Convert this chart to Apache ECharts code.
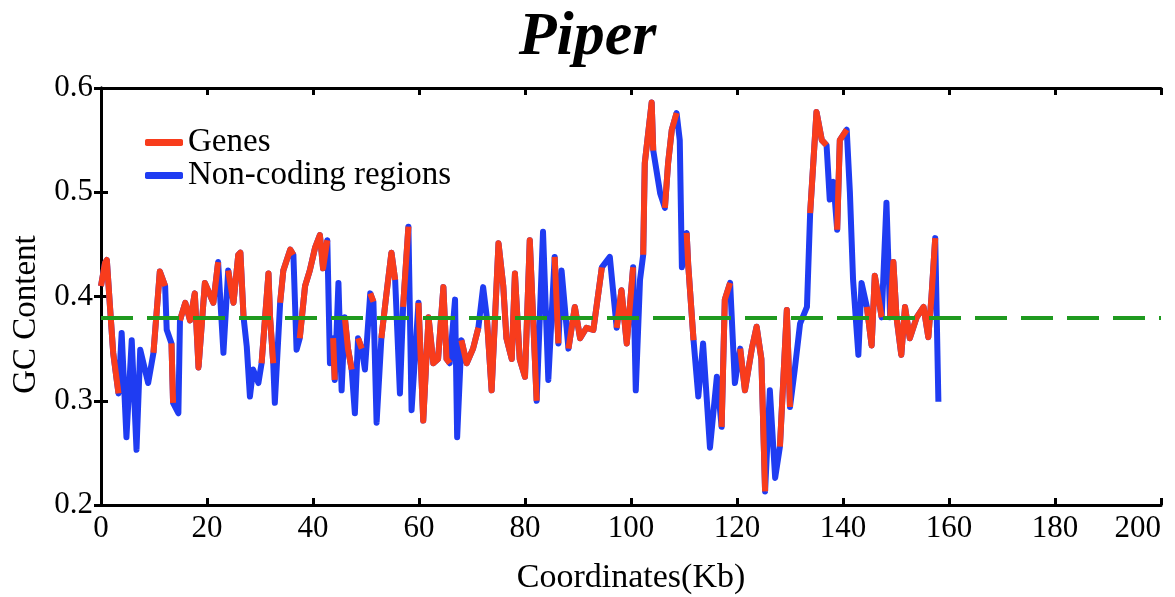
<!DOCTYPE html>
<html>
<head>
<meta charset="utf-8">
<title>Piper GC content</title>
<script src="https://cdn.jsdelivr.net/npm/echarts@6/dist/echarts.min.js"></script>
<style>
  html, body { margin: 0; padding: 0; background: #fff; }
  #chart { width: 1175px; height: 597px; }
</style>
</head>
<body>
<div id="chart"></div>
<script>
// coordinates along the genome (Kb)
const positions = [
  0.0, 0.75, 1.1, 1.7, 2.3, 3.3, 3.9, 4.8, 5.8, 6.7, 7.4, 8.9, 9.9, 11.1, 12.1, 12.4, 13.3, 13.6, 14.6, 14.9,
  15.9, 16.8, 17.7, 18.4, 19.6, 21.2, 22.1, 23.1, 24.0, 25.0, 25.9, 26.3, 26.9, 27.5, 28.1, 28.7, 29.7, 30.3, 31.6, 31.9,
  32.5, 32.8, 33.8, 34.4, 35.7, 36.3, 36.9, 37.5, 38.5, 39.4, 40.4, 41.3, 41.9, 42.7, 43.2, 43.8, 44.1, 44.8, 45.4, 46.0,
  46.6, 47.3, 47.9, 48.5, 49.2, 49.8, 50.8, 51.4, 52.0, 52.9, 53.8, 54.8, 55.5, 56.4, 57.0, 58.0, 58.6, 59.9, 60.8, 61.8,
  62.7, 63.6, 64.6, 65.2, 65.8, 66.8, 67.2, 68.0, 69.0, 70.2, 71.2, 72.1, 72.8, 73.7, 75.0, 75.9, 76.5, 77.5, 78.1, 79.0,
  80.0, 80.9, 82.2, 83.4, 84.4, 85.6, 86.3, 86.9, 88.2, 89.4, 90.4, 91.6, 92.9, 94.5, 96.0, 97.3, 98.2, 99.2, 100.4, 100.9,
  101.7, 102.3, 102.6, 103.9, 104.2, 105.5, 106.4, 107.0, 107.7, 108.6, 109.2, 109.6, 110.5, 110.8, 111.8, 112.7, 113.6, 114.9, 116.2, 117.1,
  117.7, 118.7, 119.6, 120.6, 121.5, 122.8, 123.7, 124.6, 125.3, 126.2, 127.2, 128.1, 129.4, 130.0, 130.9, 131.9, 133.2, 133.8, 135.0, 136.0,
  136.9, 137.5, 138.2, 138.9, 139.4, 140.7, 141.3, 141.9, 142.9, 143.5, 144.5, 145.4, 146.0, 147.3, 148.2, 148.9, 149.5, 150.1, 151.0, 151.7,
  152.6, 153.9, 155.2, 156.1, 156.7, 157.4, 158.0
]

// GC content of non-coding windows (blue trace)
const nonCodingGC = [
  0.41, 0.432, 0.435, 0.39, 0.346, 0.307, 0.365, 0.265, 0.358, 0.253, 0.349, 0.317, 0.346, 0.424, 0.41, 0.368, 0.355, 0.298, 0.288, 0.377,
  0.394, 0.377, 0.403, 0.332, 0.413, 0.394, 0.433, 0.346, 0.425, 0.394, 0.44, 0.442, 0.38, 0.352, 0.304, 0.33, 0.317, 0.336, 0.422, 0.38,
  0.336, 0.298, 0.394, 0.425, 0.445, 0.44, 0.349, 0.36, 0.41, 0.425, 0.447, 0.459, 0.427, 0.454, 0.336, 0.36, 0.32, 0.413, 0.31, 0.38,
  0.35, 0.33, 0.288, 0.36, 0.35, 0.33, 0.403, 0.395, 0.279, 0.36, 0.40, 0.442, 0.416, 0.307, 0.39, 0.467, 0.291, 0.394, 0.281, 0.38,
  0.336, 0.34, 0.409, 0.34, 0.336, 0.397, 0.265, 0.358, 0.336, 0.35, 0.37, 0.409, 0.38, 0.31, 0.451, 0.41, 0.36, 0.34, 0.422, 0.34,
  0.323, 0.454, 0.30, 0.462, 0.32, 0.438, 0.355, 0.425, 0.35, 0.39, 0.36, 0.37, 0.368, 0.428, 0.438, 0.37, 0.406, 0.355, 0.428, 0.31,
  0.416, 0.44, 0.528, 0.586, 0.54, 0.499, 0.485, 0.528, 0.56, 0.576, 0.55, 0.428, 0.461, 0.43, 0.358, 0.304, 0.355, 0.255, 0.323, 0.275,
  0.397, 0.413, 0.317, 0.35, 0.31, 0.35, 0.371, 0.34, 0.213, 0.31, 0.226, 0.256, 0.387, 0.294, 0.33, 0.374, 0.39, 0.48, 0.577, 0.55,
  0.545, 0.493, 0.51, 0.464, 0.55, 0.56, 0.5, 0.416, 0.344, 0.413, 0.39, 0.353, 0.42, 0.38, 0.49, 0.38, 0.433, 0.38, 0.344, 0.39,
  0.36, 0.38, 0.39, 0.361, 0.40, 0.456, 0.299
]

// GC content of gene windows (red trace), null where only non-coding shows
const geneGC = [
  0.41, 0.432, 0.435, 0.39, 0.346, 0.307, null, null, 0.358, null, 0.349, null, 0.346, 0.424, 0.41, null, 0.355, 0.298, null, 0.377,
  0.394, 0.377, 0.403, 0.332, 0.413, 0.394, 0.433, null, 0.425, 0.394, 0.44, 0.442, 0.38, null, null, 0.33, null, 0.336, 0.422, 0.38,
  0.336, null, 0.394, 0.425, 0.445, 0.44, null, 0.36, 0.41, 0.425, 0.447, 0.459, 0.427, 0.454, null, 0.36, 0.32, null, null, 0.38,
  0.35, 0.33, null, 0.36, 0.35, null, 0.403, 0.395, null, 0.36, 0.40, 0.442, 0.416, null, 0.39, 0.467, null, 0.394, 0.281, 0.38,
  0.336, 0.34, 0.409, 0.34, 0.336, null, null, 0.358, 0.336, 0.35, 0.37, null, 0.38, 0.31, 0.451, 0.41, 0.36, 0.34, 0.422, 0.34,
  0.323, 0.454, 0.30, null, null, 0.438, 0.355, null, 0.35, 0.39, 0.36, 0.37, 0.368, 0.428, null, 0.37, 0.406, 0.355, 0.428, null,
  null, 0.44, 0.528, 0.586, 0.54, null, 0.485, 0.528, 0.56, 0.576, null, null, 0.461, 0.43, 0.358, null, null, null, null, 0.275,
  0.397, 0.413, null, 0.35, 0.31, 0.35, 0.371, 0.34, 0.213, null, null, 0.256, 0.387, 0.294, null, 0.374, null, 0.48, 0.577, 0.55,
  0.545, null, null, 0.464, 0.55, 0.56, null, null, null, null, 0.39, 0.353, 0.42, 0.38, null, 0.38, 0.433, 0.38, 0.344, 0.39,
  0.36, 0.38, 0.39, 0.361, 0.40, 0.456, null
]

// genome-wide average GC
const meanGC = 0.384

const xTicks = [0, 20, 40, 60, 80, 100, 120, 140, 160, 180, 200]
const yTicks = [0.2, 0.3, 0.4, 0.5, 0.6]

const serif = "'Liberation Serif', 'DejaVu Serif', serif"

const chart = echarts.init(document.getElementById('chart'))

const boxAxisLine = { show: true, lineStyle: { color: '#000', width: 3 } }
const boxTick = { show: true, inside: true, length: 7, lineStyle: { color: '#000', width: 3 } }

const option = {
  animation: false,
  backgroundColor: '#fff',
  title: {
    text: 'Piper',
    left: 'center',
    top: 2,
    textStyle: { fontFamily: serif, fontStyle: 'italic', fontWeight: 'bold', fontSize: 62, color: '#000' }
  },
  legend: {
    data: ['Genes', 'Non-coding regions'],
    orient: 'vertical',
    left: 140,
    top: 121,
    itemGap: 0,
    itemWidth: 38,
    itemHeight: 7,
    icon: 'roundRect',
    textStyle: { fontFamily: serif, fontSize: 33, color: '#000', lineHeight: 25 }
  },
  grid: { left: 101, right: 14, top: 88, bottom: 92, outerBoundsMode: 'none', containLabel: false },
  xAxis: [
    {
      type: 'value',
      min: xTicks[0],
      max: xTicks[xTicks.length - 1],
      interval: 20,
      name: 'Coordinates(Kb)',
      nameLocation: 'middle',
      nameGap: 56,
      nameTextStyle: { fontFamily: serif, fontSize: 34, color: '#000' },
      axisLine: boxAxisLine,
      axisTick: boxTick,
      splitLine: { show: false },
      axisLabel: { fontFamily: serif, fontSize: 31, color: '#000', margin: 8, alignMaxLabel: 'right' }
    },
    {
      type: 'value',
      position: 'top',
      min: xTicks[0],
      max: xTicks[xTicks.length - 1],
      interval: 20,
      axisLine: boxAxisLine,
      axisTick: boxTick,
      splitLine: { show: false },
      axisLabel: { show: false }
    }
  ],
  yAxis: [
    {
      type: 'value',
      min: yTicks[0],
      max: yTicks[yTicks.length - 1],
      interval: 0.1,
      name: 'GC Content',
      nameLocation: 'middle',
      nameGap: 58,
      nameTextStyle: { fontFamily: serif, fontSize: 33, color: '#000', padding: [0, 36, 0, 0] },
      axisLine: boxAxisLine,
      axisTick: boxTick,
      splitLine: { show: false },
      axisLabel: { fontFamily: serif, fontSize: 31, color: '#000', margin: 8, formatter: v => v.toFixed(1) }
    },
    {
      type: 'value',
      position: 'right',
      min: yTicks[0],
      max: yTicks[yTicks.length - 1],
      interval: 0.1,
      axisLine: boxAxisLine,
      axisTick: boxTick,
      splitLine: { show: false },
      axisLabel: { show: false }
    }
  ],
  series: [
    {
      name: 'Non-coding regions',
      type: 'line',
      color: '#1f3cf2',
      showSymbol: false,
      lineStyle: { width: 6, color: '#1f3cf2', join: 'round' },
      data: positions.map((x, i) => [x, nonCodingGC[i]]),
      markLine: {
        silent: true,
        symbol: 'none',
        label: { show: false },
        lineStyle: { color: '#1f9a1f', width: 4, type: [32, 14] },
        data: [{ yAxis: meanGC }]
      }
    },
    {
      name: 'Genes',
      type: 'line',
      color: '#f83c1c',
      showSymbol: false,
      connectNulls: false,
      lineStyle: { width: 6, color: '#f83c1c', join: 'round' },
      data: positions.map((x, i) => [x, geneGC[i]])
    }
  ]
}

option && chart.setOption(option)
</script>
</body>
</html>
